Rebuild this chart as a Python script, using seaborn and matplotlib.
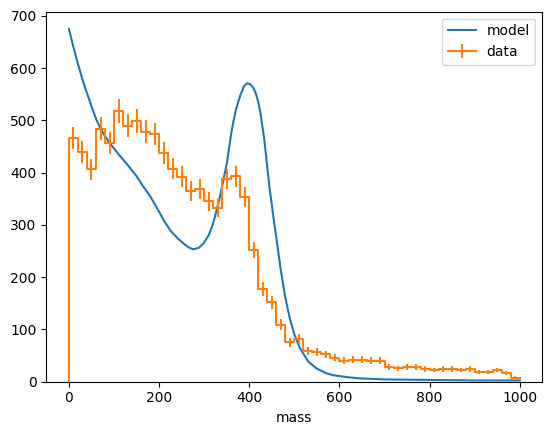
import numpy as np
import pandas as pd
import seaborn as sns
import matplotlib
matplotlib.use('Agg')
import matplotlib.pyplot as plt

# binned data, 50 bins of width 20 between 0 and 1000
bin_edges = np.linspace(0, 1000, 51)
counts = [466, 439, 406, 484, 457, 518, 490, 499, 478, 474,
          438, 407, 392, 365, 368, 345, 333, 388, 393, 353,
          252, 177, 152, 109, 75, 81, 59, 57, 52, 45,
          40, 42, 42, 40, 40, 28, 25, 28, 28, 24,
          22, 24, 24, 22, 24, 18, 18, 22, 16, 7]

# model curve
model_x = [0, 10, 20, 30, 40, 50, 60, 70, 80, 90, 100, 110, 128, 150, 165, 180,
           200, 210, 225, 240, 253, 265, 276, 288, 298, 310, 320, 335, 350, 361, 370,
           380, 388, 395, 402, 410, 415, 420, 425, 433, 438, 445, 455, 460, 470, 480,
           490, 500, 512, 531, 549, 570, 586, 620, 645, 700, 800, 900, 1000]
model_y = [675, 640, 608, 578, 552, 527, 503, 484, 470, 457, 446, 435, 417, 393, 373, 355,
           325, 309, 289, 275, 265, 257, 253, 256, 264, 280, 303, 354, 417, 481, 520,
           548, 565, 571, 569, 561, 550, 535, 512, 465, 425, 370, 305, 275, 212, 160,
           120, 90, 64, 38, 25, 16, 12, 8, 6, 4, 3, 2, 2]

counts = np.array(counts, dtype=float)
centers = 0.5 * (bin_edges[:-1] + bin_edges[1:])
errors = np.sqrt(counts)

df_model = pd.DataFrame({'mass': model_x, 'value': model_y})

fig = plt.figure(figsize=(5.52, 4.34), dpi=100)
ax = fig.add_axes([46.4 / 552, 52.5 / 434, 496 / 552, 369.8 / 434])

sns.lineplot(data=df_model, x='mass', y='value', color='C0', ax=ax, label='model')

# histogram outline plus poisson error bars
step_x = np.concatenate([[0], bin_edges])
step_y = np.concatenate([[0], counts, [counts[-1]]])
step_line, = ax.step(step_x, step_y, where='post', color='C1')
eb = ax.errorbar(centers, counts, yerr=errors, fmt='none', ecolor='C1')

model_line = ax.get_lines()[0]
ax.legend([model_line, (step_line, eb)], ['model', 'data'], loc='upper right')

ax.set_xlim(-50, 1050)
ax.set_ylim(0, 708)
ax.set_xlabel('mass')
ax.set_ylabel('')

fig.savefig('out.png', dpi=100)
